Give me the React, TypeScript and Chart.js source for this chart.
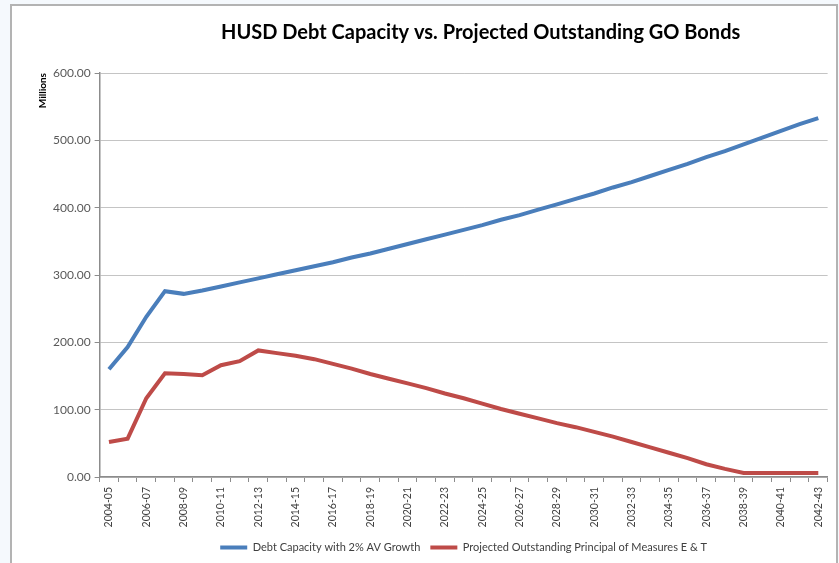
import React, { useEffect, useRef } from "react";
import { Chart, registerables } from "chart.js";

Chart.register(...registerables);

const years = [
  "2004-05", "2005-06", "2006-07", "2007-08", "2008-09", "2009-10", "2010-11", "2011-12",
  "2012-13", "2013-14", "2014-15", "2015-16", "2016-17", "2017-18", "2018-19", "2019-20",
  "2020-21", "2021-22", "2022-23", "2023-24", "2024-25", "2025-26", "2026-27", "2027-28",
  "2028-29", "2029-30", "2030-31", "2031-32", "2032-33", "2033-34", "2034-35", "2035-36",
  "2036-37", "2037-38", "2038-39", "2039-40", "2040-41", "2041-42", "2042-43",
];

const debtCapacity = [
  160, 193, 238, 276, 272, 277, 283, 289, 295, 301, 307, 313, 319, 326, 332, 339,
  346, 353, 360, 367, 374, 382, 389, 397, 405, 413, 421, 430, 438, 447, 456, 465,
  475, 484, 494, 504, 514, 524, 533,
];

const outstandingPrincipal = [
  52, 57, 117, 154, 153, 151, 166, 172, 188, 184, 180, 175, 168, 161, 153, 146,
  139, 132, 124, 117, 109, 101, 94, 87, 80, 74, 67, 60, 52, 44, 36, 28,
  19, 12, 6, 6, 6, 6, 6,
];

const seriesNames = [
  "Debt Capacity with 2% AV Growth",
  "Projected Outstanding Principal of Measures E & T",
];

const yTicks = [0, 100, 200, 300, 400, 500, 600];

const titleText = "HUSD Debt Capacity vs. Projected Outstanding GO Bonds";
const yTitle = "Millions";

const FONT = "Lato, 'Open Sans', 'Liberation Sans', sans-serif";

const chartTitlePlugin = {
  id: "chartTitle",
  afterDraw(chart: any, _args: any, opts: any) {
    const { ctx, chartArea } = chart;
    ctx.save();
    ctx.font = `bold ${opts.size}px ${FONT}`;
    ctx.fillStyle = opts.color;
    ctx.textAlign = "center";
    ctx.textBaseline = "middle";
    ctx.fillText(opts.text, (chartArea.left + chartArea.right) / 2 + opts.shiftX, opts.y);
    ctx.restore();
  },
};

export default function App() {
  const ref = useRef<HTMLCanvasElement | null>(null);

  useEffect(() => {
    if (!ref.current) return;
    const chart = new Chart(ref.current, {
      type: "line",
      data: {
        labels: years,
        datasets: [
          {
            label: seriesNames[0],
            data: debtCapacity,
            borderColor: "#4a7ebb",
            backgroundColor: "#4a7ebb",
            borderWidth: 4,
            pointRadius: 0,
            tension: 0,
          },
          {
            label: seriesNames[1],
            data: outstandingPrincipal,
            borderColor: "#be4b48",
            backgroundColor: "#be4b48",
            borderWidth: 4,
            pointRadius: 0,
            tension: 0,
          },
        ],
      },
      plugins: [chartTitlePlugin],
      options: {
        animation: false,
        responsive: false,
        maintainAspectRatio: false,
        layout: { padding: { left: 18, right: 8, top: 67, bottom: 0 } },
        plugins: {
          tooltip: { enabled: false },
          title: { display: false },
          chartTitle: { text: titleText, size: 20, color: "#000000", shiftX: 17, y: 27 },
          legend: {
            position: "bottom",
            fullSize: false,
            labels: {
              boxWidth: 27,
              boxHeight: 4,
              color: "#404040",
              font: { family: FONT, size: 11 },
              padding: 10,
              generateLabels: (c: any) => {
                const items = Chart.defaults.plugins.legend.labels.generateLabels(c);
                return items.map((it: any) => ({ ...it, lineWidth: 0, fillStyle: it.strokeStyle }));
              },
            },
          },
        },
        scales: {
          x: {
            type: "category",
            offset: true,
            afterFit: (axis: any) => {
              axis.height = 55;
            },
            grid: {
              offset: true,
              drawOnChartArea: false,
              drawTicks: true,
              tickLength: 5,
              color: "#8c8c8c",
            },
            border: { color: "#8c8c8c", width: 1.5 },
            ticks: {
              autoSkip: false,
              minRotation: 90,
              maxRotation: 90,
              padding: 5,
              color: "#404040",
              font: { family: FONT, size: 10.5 },
              callback: (_v: any, i: number) => (i % 2 === 0 ? years[i] : ""),
            },
          },
          y: {
            min: yTicks[0],
            max: yTicks[yTicks.length - 1],
            afterBuildTicks: (axis: any) => {
              axis.ticks = yTicks.map((v) => ({ value: v }));
            },
            grid: {
              color: "#c4c4c4",
              lineWidth: 1,
              drawTicks: true,
              tickLength: 5,
              tickColor: "#8c8c8c",
            },
            border: { color: "#8c8c8c", width: 1.5 },
            ticks: {
              padding: 4,
              color: "#595959",
              font: { family: FONT, size: 12 },
              callback: (v: any) => Number(v).toFixed(2),
            },
            title: {
              display: true,
              text: yTitle,
              align: "end",
              color: "#000000",
              font: { family: FONT, size: 10, weight: "bold" },
              padding: { top: 7, bottom: 0 },
            },
          },
        },
      },
    } as any);
    return () => chart.destroy();
  }, []);

  return (
    <div style={{ position: "fixed", inset: 0, background: "#f5f9fd" }}>
      <div
        style={{
          position: "absolute",
          left: 10,
          top: 4,
          width: 824,
          height: 600,
          border: "2px solid #b3b3b3",
          background: "#ffffff",
        }}
      >
        <canvas ref={ref} width={824} height={557} style={{ display: "block", width: 824, height: 557 }} />
      </div>
    </div>
  );
}
